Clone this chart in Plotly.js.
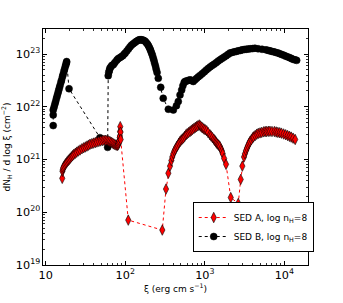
<!DOCTYPE html>
<html>
<head>
<meta charset="utf-8">
<script src="https://cdn.plot.ly/plotly-3.0.1.min.js"></script>
<style>html,body{margin:0;padding:0;background:#fff;}#chart{width:343px;height:303px;}</style>
</head>
<body>
<div id="chart"></div>
<script>
// SED A, log nH=8 (red diamonds)
const xiA = [16.1,16.2,16.4,16.6,17.0,17.5,18.0,18.5,19.1,19.7,20.3,21,21.7,22.5,23.5,24.5,25.7,27,28.5,30,31.5,33,34.5,36,38,40,42,44,46.5,49,51.5,54,56.5,59,61.5,64,66.5,69,71.5,74,76.5,79,80.5,82,83,84,85,85.5,86,86.5,87,87.5,
  109,292,325,348,365,
  380,390,402,415,428,442,456,471,488,505,522,540,560,580,600,625,652,676,700,730,760,790,820,853,880,910,940,975,1010,1056,1100,1161,1200,1250,1300,1340,1380,1413,1460,1500,1549,1600,1640,1680,1750,1850,
  2120,2636,2830,2965,
  3112,3200,3300,3400,3500,3600,3700,3850,4000,4100,4300,4500,4700,4950,5200,5500,5750,6000,6300,6600,7000,7500,7900,8300,8750,9200,9800,10400,11000,11600,12200,12900,13700];
const nA = [4.4e20,6.0e20,6.5e20,7.0e20,7.5e20,8.0e20,8.5e20,9.0e20,9.5e20,1.0e21,1.06e21,1.12e21,1.18e21,1.25e21,1.31e21,1.38e21,1.45e21,1.52e21,1.6e21,1.67e21,1.73e21,1.8e21,1.87e21,1.95e21,2.0e21,2.05e21,2.1e21,2.15e21,2.2e21,2.25e21,2.29e21,2.32e21,2.32e21,2.3e21,2.25e21,2.2e21,2.12e21,2.05e21,1.98e21,1.92e21,1.88e21,1.85e21,1.88e21,1.95e21,2.1e21,2.3e21,2.6e21,2.8e21,3.4e21,4.2e21,3.3e21,2.4e21,
  7.1e19,4.6e19,2.75e20,5.5e20,7.5e20,
  9.55e20,1.12e21,1.29e21,1.45e21,1.58e21,1.74e21,1.86e21,2.04e21,2.19e21,2.34e21,2.45e21,2.57e21,2.75e21,2.95e21,3.09e21,3.24e21,3.39e21,3.55e21,3.72e21,3.89e21,4.07e21,4.22e21,4.37e21,4.52e21,4.32e21,4.12e21,3.98e21,3.8e21,3.67e21,3.51e21,3.24e21,2.95e21,2.79e21,2.6e21,2.43e21,2.29e21,2.16e21,2.04e21,1.95e21,1.86e21,1.76e21,1.58e21,1.45e21,1.29e21,1.05e21,8.1e20,
  1.9e20,1.47e20,4.2e20,7.5e20,
  1.12e21,1.29e21,1.48e21,1.66e21,1.84e21,2.02e21,2.19e21,2.37e21,2.57e21,2.69e21,2.85e21,3.02e21,3.13e21,3.2e21,3.27e21,3.35e21,3.39e21,3.39e21,3.43e21,3.43e21,3.4e21,3.39e21,3.33e21,3.27e21,3.22e21,3.16e21,3.05e21,2.95e21,2.85e21,2.75e21,2.66e21,2.54e21,2.4e21];

// SED B, log nH=8 (black circles)
const xiB = [12.4,12.4,12.4,12.7,13.0,13.3,13.6,13.9,14.2,14.5,14.8,15.1,15.5,15.8,16.2,16.5,16.9,17.2,17.6,17.9,18.2,18.3,19.6,48,54,60,
  61,62,63,64,66,68,71,74,78,81,85,89,93,97,100,105,110,115,120,126,132,138,145,150,155,160,166,172,178,184,190,195,200,205,209,214,219,224,229,234,240,245,251,260,
  279,300,348,402,440,464,488,512,
  530,550,563,590,617,652,684,716,753,790,832,880,933,990,1047,1110,1175,1245,1318,1400,1479,1570,1660,1760,1862,1970,2075,2200,2344,2480,2630,2800,2951,3130,3311,3500,3715,3990,4270,4677,5248,5888,6300,6607,7000,7413,7850,8318,8800,9333,9900,10470,11100,11750,12300,12880,13600,14300];
const nB = [4.4e21,7.0e21,8.7e21,9.8e21,1.12e22,1.26e22,1.43e22,1.61e22,1.81e22,2.03e22,2.26e22,2.52e22,2.91e22,3.23e22,3.7e22,4.09e22,4.66e22,5.13e22,5.81e22,6.31e22,6.84e22,7.2e22,2.2e22,2.6e21,2.3e21,1.7e21,
  3.89e22,4.47e22,4.9e22,5.37e22,5.75e22,6.1e22,6.31e22,6.92e22,7.59e22,8.13e22,8.51e22,8.91e22,9.33e22,1.0e23,1.05e23,1.15e23,1.26e23,1.38e23,1.48e23,1.57e23,1.66e23,1.74e23,1.82e23,1.86e23,1.86e23,1.86e23,1.84e23,1.8e23,1.74e23,1.64e23,1.55e23,1.45e23,1.35e23,1.24e23,1.15e23,1.05e23,9.55e22,8.51e22,7.59e22,6.68e22,5.89e22,5.13e22,4.47e22,3.47e22,
  2.34e22,1.45e22,9.0e21,8.7e21,1.05e22,1.26e22,1.68e22,2.09e22,
  2.51e22,2.88e22,3.02e22,3.09e22,3.16e22,3.24e22,3.16e22,3.02e22,3.24e22,3.47e22,3.72e22,3.98e22,4.27e22,4.62e22,5.01e22,5.37e22,5.75e22,6.1e22,6.46e22,6.92e22,7.41e22,7.85e22,8.32e22,8.81e22,9.33e22,9.89e22,1.05e23,1.07e23,1.1e23,1.12e23,1.15e23,1.17e23,1.2e23,1.22e23,1.23e23,1.24e23,1.26e23,1.27e23,1.29e23,1.26e23,1.23e23,1.2e23,1.17e23,1.15e23,1.12e23,1.1e23,1.07e23,1.05e23,1.01e23,9.77e22,9.44e22,9.12e22,8.81e22,8.51e22,8.22e22,7.94e22,7.76e22,7.59e22];

const traceB = {
  x: xiB, y: nB, name: 'SED B, log n<sub>H</sub>=8', type: 'scatter', mode: 'lines+markers',
  line: {color: 'black', width: 1, dash: 'dot'},
  marker: {symbol: 'circle', size: 7, color: 'black', line: {color: 'black', width: 0.5}}
};
const traceA = {
  x: xiA, y: nA, name: 'SED A, log n<sub>H</sub>=8', type: 'scatter', mode: 'lines+markers',
  line: {color: 'red', width: 1, dash: 'dot'},
  marker: {symbol: 'diamond-tall', size: 7.5, color: 'red', line: {color: 'black', width: 0.6}}
};

const axisCommon = {
  type: 'log', showgrid: false, zeroline: false, showline: true, linecolor: 'black', linewidth: 1,
  mirror: 'ticks', ticks: 'inside', ticklen: 4, tickwidth: 1, tickcolor: 'black',
  dtick: 1, exponentformat: 'power',
  minor: {ticks: 'inside', ticklen: 2, tickcolor: 'black', tickwidth: 0.8, showgrid: false},
  tickfont: {family: 'DejaVu Sans', size: 9, color: 'black'}
};

const layout = {
  width: 343, height: 303,
  margin: {l: 43, r: 35, t: 29, b: 38},
  paper_bgcolor: 'white', plot_bgcolor: 'white',
  showlegend: true,
  font: {family: 'DejaVu Sans', size: 9, color: 'black'},
  xaxis: Object.assign({}, axisCommon, {
    range: [0.965, 4.298],
    title: {text: 'ξ (erg cm s<sup>−1</sup>)', font: {family: 'DejaVu Sans', size: 9}, standoff: 4}
  }),
  yaxis: Object.assign({}, axisCommon, {
    range: [19, 23.475],
    title: {text: 'dN<sub>H</sub> / d log ξ (cm<sup>−2</sup>)', font: {family: 'DejaVu Sans', size: 9}, standoff: 6}
  }),
  legend: {
    x: 0.565, y: 0.055, xanchor: 'left', yanchor: 'bottom',
    bgcolor: 'white', bordercolor: 'black', borderwidth: 1,
    font: {family: 'DejaVu Sans', size: 9}, traceorder: 'reversed',
    itemwidth: 30, tracegroupgap: 0
  }
};

Plotly.newPlot('chart', [traceB, traceA], layout, {staticPlot: true, displayModeBar: false});
</script>
</body>
</html>
